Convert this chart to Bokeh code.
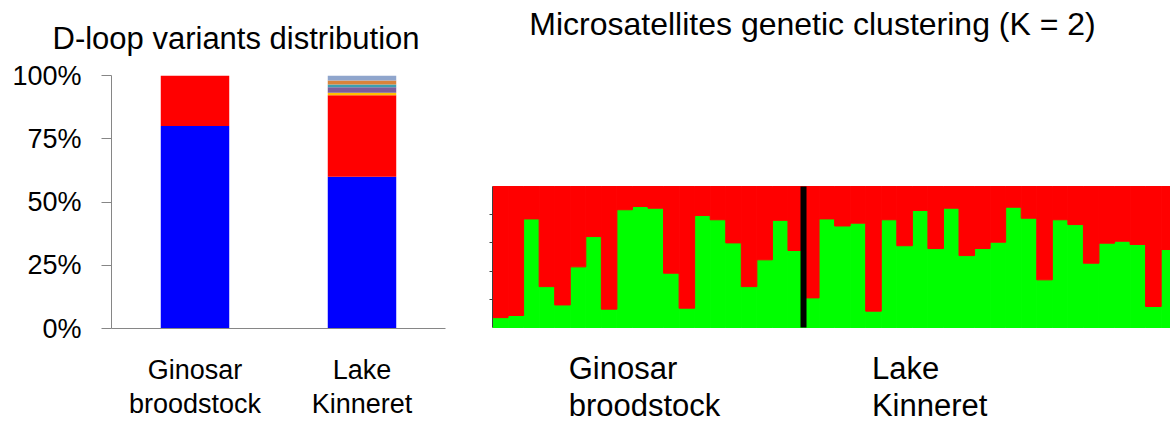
from bokeh.plotting import figure
from bokeh.layouts import row
from bokeh.models import ColumnDataSource, FixedTicker, Range1d, FactorRange, Label
from bokeh.embed import file_html
from bokeh.resources import INLINE

# ---------------- data ----------------
categories = ["Ginosar\nbroodstock", "Lake\nKinneret"]
hap_names = ["hap1", "hap2", "hap3", "hap4", "hap5", "hap6", "hap7"]
hap_colors = ["#0000FF", "#FF0000", "#FFC000", "#7B5C9C", "#3C9FB0", "#D9833A", "#8FA5CC"]
hap1 = [0.80, 0.600]
hap2 = [0.20, 0.322]
hap3 = [0.00, 0.010]
hap4 = [0.00, 0.022]
hap5 = [0.00, 0.010]
hap6 = [0.00, 0.016]
hap7 = [0.00, 0.020]
y_ticks = [0, 0.25, 0.5, 0.75, 1.0]
y_tick_labels = ["0%", "25%", "50%", "75%", "100%"]

ginosar_green = [0.07, 0.085, 0.77, 0.29, 0.16, 0.43, 0.645, 0.13, 0.835, 0.858,
                 0.846, 0.385, 0.137, 0.794, 0.764, 0.60, 0.29, 0.48, 0.76, 0.546]
kinneret_green = [0.21, 0.77, 0.72, 0.74, 0.116, 0.764, 0.58, 0.83, 0.56, 0.846,
                  0.51, 0.56, 0.605, 0.853, 0.775, 0.338, 0.764, 0.73, 0.456, 0.598,
                  0.612, 0.589, 0.149, 0.553]
cluster_colors = ["#00FF00", "#FF0000"]
struct_ticks = [0.2, 0.4, 0.6, 0.8]
group_names = ["Ginosar", "broodstock", "Lake", "Kinneret"]
title_left = "D-loop variants distribution"
title_right = "Microsatellites genetic clustering (K = 2)"

FONT = "Liberation Sans"

# ---------------- left chart ----------------
src = ColumnDataSource(dict(cat=categories, hap1=hap1, hap2=hap2, hap3=hap3, hap4=hap4,
                            hap5=hap5, hap6=hap6, hap7=hap7))
p1 = figure(x_range=FactorRange(*categories), y_range=Range1d(0, 1),
            width=482, height=423, output_backend="svg", toolbar_location=None,
            title=title_left,
            min_border_left=111, min_border_right=37, min_border_top=75, min_border_bottom=95)
p1.vbar_stack(hap_names, x="cat", width=0.41, color=hap_colors, source=src, line_color=None)
p1.xgrid.visible = False
p1.ygrid.visible = False
p1.outline_line_color = None
p1.title.align = "left"
p1.title.offset = -59
p1.title.standoff = 36
p1.title.vertical_align = "top"
p1.title.text_font = FONT
p1.title.text_font_size = "31px"
p1.title.text_font_style = "normal"
p1.title.text_color = "black"
p1.yaxis.ticker = FixedTicker(ticks=y_ticks)
p1.yaxis.major_label_overrides = {t: l for t, l in zip(y_ticks, y_tick_labels)}
p1.yaxis.minor_tick_line_color = None
p1.yaxis.major_tick_in = 0
p1.yaxis.major_tick_out = 10
p1.yaxis.axis_line_color = "#868686"
p1.yaxis.major_tick_line_color = "#868686"
p1.yaxis.major_label_standoff = 20
for ax in (p1.yaxis[0], p1.xaxis[0]):
    ax.major_label_text_font = FONT
    ax.major_label_text_font_size = "27px"
    ax.major_label_text_color = "black"
p1.xaxis.axis_line_color = "#868686"
p1.xaxis.major_tick_line_color = None
p1.xaxis.major_label_standoff = 20
p1.xaxis.major_label_text_line_height = 1.15

# ---------------- right chart ----------------
n1 = len(ginosar_green)
greens = ginosar_green + kinneret_green
idx = [i + 0.5 for i in range(len(greens))]
reds = [1 - g for g in greens]
src2 = ColumnDataSource(dict(x=idx, green=greens, red=reds))
p2 = figure(x_range=Range1d(0, 43.6), y_range=Range1d(-96 / 141, 1 + 186 / 141),
            width=688, height=423, output_backend="svg", toolbar_location=None,
            x_axis_location=None,
            min_border_left=10, min_border_right=0, min_border_top=0, min_border_bottom=0)
p2.vbar_stack(["green", "red"], x="x", width=1.0, color=cluster_colors, source=src2)
p2.xgrid.visible = False
p2.ygrid.visible = False
p2.outline_line_color = None
p2.yaxis.ticker = FixedTicker(ticks=struct_ticks)
p2.yaxis.bounds = (0, 1)
p2.yaxis.major_label_overrides = {t: "" for t in struct_ticks}
p2.yaxis.major_label_standoff = 0
p2.yaxis.minor_tick_line_color = None
p2.yaxis.major_tick_in = 0
p2.yaxis.major_tick_out = 3
p2.yaxis.axis_line_color = "#404040"
p2.yaxis.major_tick_line_color = "#404040"
p2.segment(x0=[n1], y0=[0], x1=[n1], y1=[1], line_color="black", line_width=6)
p2.add_layout(Label(x=20.58, y=2.149, text=title_right,
                    text_align="center", text_baseline="middle", text_font=FONT,
                    text_font_size="32px", text_color="black"))
for name, xx, yy in [(group_names[0], 4.9, -0.29), (group_names[1], 4.9, -0.55),
                     (group_names[2], 24.4, -0.29), (group_names[3], 24.4, -0.55)]:
    p2.add_layout(Label(x=xx, y=yy, text=name, text_align="left", text_baseline="middle",
                        text_font=FONT, text_font_size="31px", text_color="black"))

for p in (p1, p2):
    try:
        p.frame_align = False
    except Exception:
        pass

layout = row(p1, p2)
open("out.html", "w").write(file_html(layout, INLINE))
